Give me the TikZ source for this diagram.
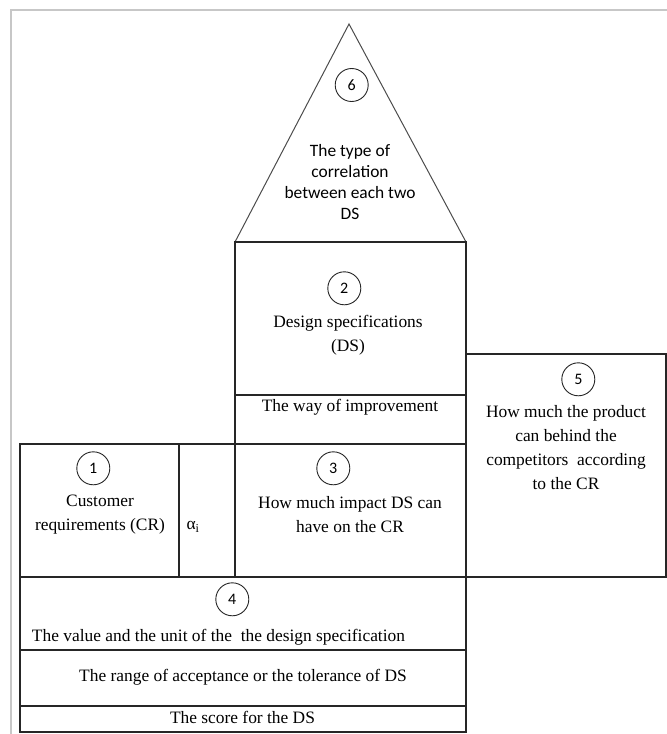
\documentclass[tikz,border=0pt]{standalone}
\usepackage{fontspec}
\setmainfont{Liberation Serif}
\newfontfamily\carlito{Carlito}
\begin{document}
\begin{tikzpicture}[x=1pt,y=-1pt,
  boxline/.style={line width=1.3pt,draw=black!85},
  triline/.style={line width=1pt,draw=black!70},
  framel/.style={line width=2pt,draw=black!22},
  numc/.style={circle,draw=black!85,line width=0.9pt,minimum size=33pt,inner sep=0pt,font=\carlito\fontsize{16}{16}\selectfont},
  serif/.style={align=center,inner sep=0pt,font=\fontsize{17.4}{24}\selectfont,text=black},
  sans/.style={align=center,inner sep=0pt,font=\carlito\fontsize{17.4}{21}\selectfont,text=black}]
\useasboundingbox (0,0) rectangle (667,734);
% page frame
\draw[framel] (11,734) -- (11,10) -- (667,10);
% roof
\draw[triline] (235,242) -- (349,24) -- (466,242);
% boxes
\draw[boxline] (235,242) rectangle (466,444);
\draw[boxline] (235,395) -- (466,395);
\draw[boxline] (20,444) rectangle (466,577);
\draw[boxline] (179,444) -- (179,577);
\draw[boxline] (235,444) -- (235,577);
\draw[boxline] (466,354) rectangle (666,577);
\draw[boxline] (20,577) rectangle (466,732);
\draw[boxline] (20,650) -- (466,650);
\draw[boxline] (20,706) -- (466,706);
% numbers
\node[numc] (c6) at (351.7,85) {6};
\node[numc] (c2) at (344.3,288.3) {2};
\node[numc] (c1) at (93.3,468.3) {1};
\node[numc] (c3) at (333.3,468.3) {3};
\node[numc] (c5) at (578.3,379.3) {5};
\node[numc] (c4) at (232.3,599.3) {4};
% texts
\node[sans] (t6) at (350,182) {The type of\\correlation\\between each two\\DS};
\node[serif] (t2) at (348,335) {Design specifications\\(DS)};
\node[serif] (tw) at (350,407) {The way of improvement};
\node[serif] (t1) at (100,515) {Customer\\requirements (CR)};
\node[serif] (ta) at (193,527) {α\textsubscript{i}};
\node[serif] (t3) at (350,515) {How much impact DS can\\have on the CR};
\node[serif] (t5) at (566,448) {How much the product\\can behind the\\competitors\ \ according\\to the CR};
\node[serif] (t4) at (218.5,637) {The value and the unit of the\ \ the design specification};
\node[serif] (tr) at (243,677) {The range of acceptance or the tolerance of DS};
\node[serif] (ts) at (242.5,717) {The score for the DS};
\end{tikzpicture}
\end{document}
